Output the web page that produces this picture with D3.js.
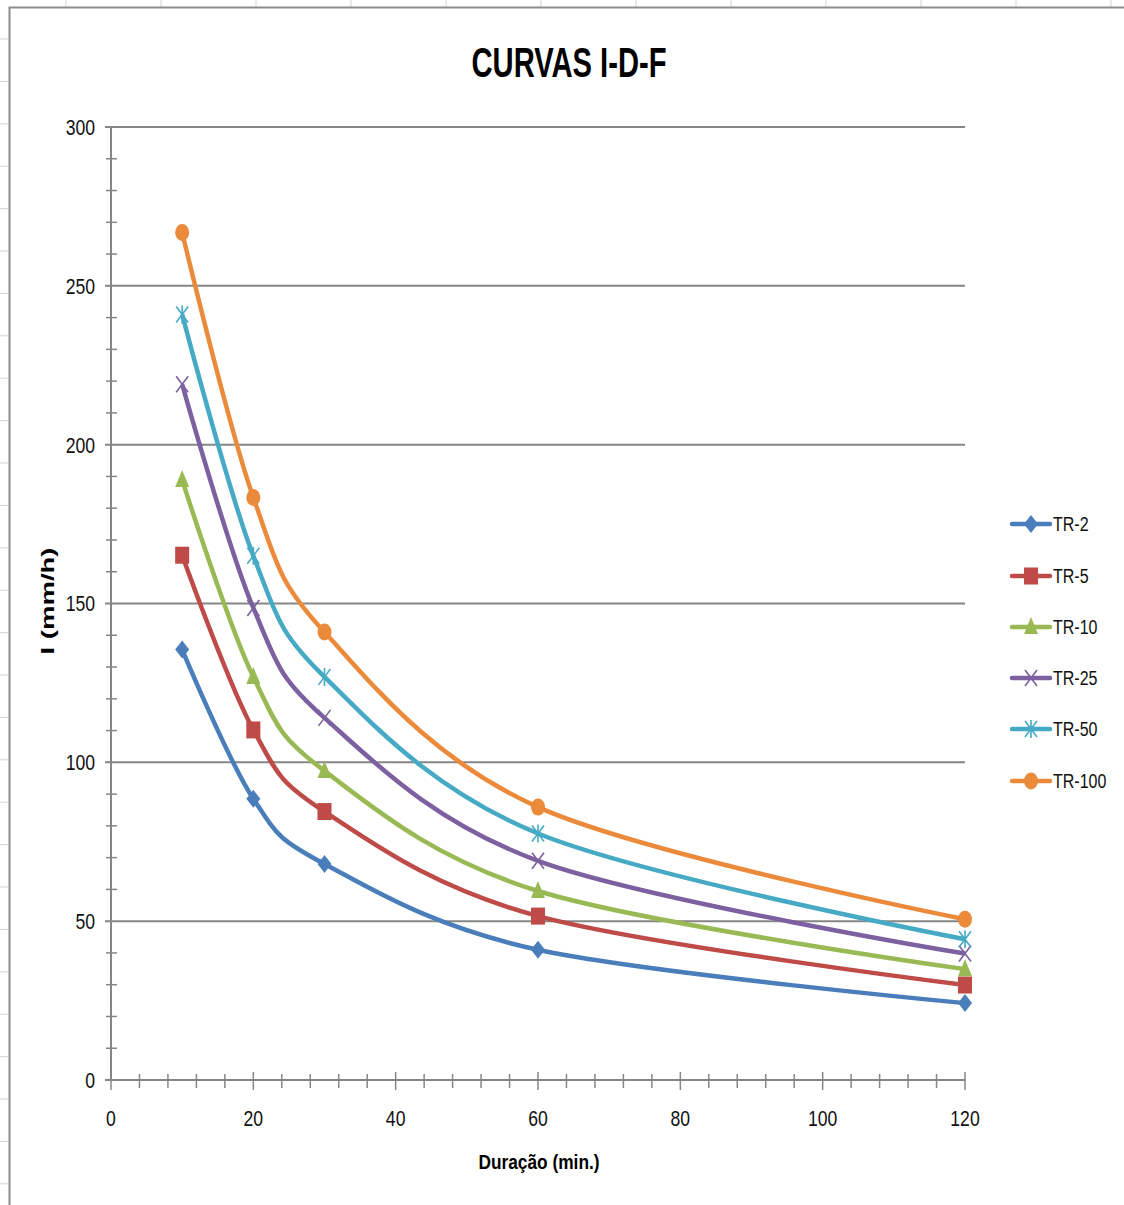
<!DOCTYPE html>
<html>
<head>
<meta charset="utf-8">
<script src="https://cdn.jsdelivr.net/npm/d3@7"></script>
<style>
  body { margin: 0; background: #fff; }
  svg { display: block; font-family: "Liberation Sans", Arial, sans-serif; }
</style>
</head>
<body>
<div id="chart"></div>
<script>
// dados ---------------------------------------------------------------
const duracoes = [10, 20, 30, 60, 120];
const seriesNames = ['TR-2', 'TR-5', 'TR-10', 'TR-25', 'TR-50', 'TR-100'];
const tr2 = [135.5, 88.5, 68, 41, 24.2];
const tr5 = [165.2, 110.2, 84.5, 51.6, 29.9];
const tr10 = [188.9, 126.9, 97.3, 59.5, 34.9];
const tr25 = [219, 148.6, 114, 69, 39.8];
const tr50 = [241, 165, 126.9, 77.6, 44.3];
const tr100 = [266.8, 183.4, 141, 85.9, 50.6];
const yTicks = [0, 50, 100, 150, 200, 250, 300];
const xTicks = [0, 20, 40, 60, 80, 100, 120];

const seriesValues = [tr2, tr5, tr10, tr25, tr50, tr100];
const colors = ['#4a7ebb', '#be4b48', '#98b954', '#7d60a0', '#46aac5', '#ec8a3c'];
const markerTypes = ['diamond', 'square', 'triangle', 'x', 'star', 'circle'];

// SVG ------------------------------------------------------------------
const W = 1124, H = 1205;
const svg = d3.select('#chart').append('svg')
  .attr('width', W)
  .attr('height', H);

// fundo da planilha
const sheet = svg.append('g');
d3.range(66, W, 95).forEach(x => {
  sheet.append('line').attr('x1', x).attr('x2', x).attr('y1', 0).attr('y2', 7)
    .attr('stroke', '#d4d4d4').attr('stroke-width', 1);
});
d3.range(39, H, 42.4).forEach(y => {
  sheet.append('line').attr('x1', 0).attr('x2', 8).attr('y1', y).attr('y2', y)
    .attr('stroke', '#d4d4d4').attr('stroke-width', 1);
});
// borda do gráfico
svg.append('path')
  .attr('d', `M9.5,${H + 5} L9.5,7.5 L${W + 5},7.5`)
  .attr('fill', 'none')
  .attr('stroke', '#8c8c8c')
  .attr('stroke-width', 2);

// escalas --------------------------------------------------------------
const x = d3.scaleLinear().domain([0, 120]).range([111, 965]);
const y = d3.scaleLinear().domain([0, 300]).range([1080, 127]);
const axisColor = '#868686';

// linhas de grade
svg.append('g').selectAll('line')
  .data(yTicks.filter(d => d > 0))
  .join('line')
  .attr('x1', x(0) - 6).attr('x2', x(120))
  .attr('y1', d => y(d)).attr('y2', d => y(d))
  .attr('stroke', axisColor).attr('stroke-width', 2);

// eixo Y
const yAxis = svg.append('g');
yAxis.append('line')
  .attr('x1', x(0)).attr('x2', x(0)).attr('y1', y(0)).attr('y2', y(300))
  .attr('stroke', axisColor).attr('stroke-width', 2);
yAxis.selectAll('.minor')
  .data(d3.range(0, 301, 10).filter(d => d % 50 !== 0))
  .join('line')
  .attr('x1', x(0) - 5).attr('x2', x(0) + 6)
  .attr('y1', d => y(d)).attr('y2', d => y(d))
  .attr('stroke', axisColor).attr('stroke-width', 1.5);
yAxis.selectAll('text')
  .data(yTicks)
  .join('text')
  .attr('class', 'cond')
  .attr('x', x(0) - 16)
  .attr('y', d => y(d))
  .attr('dy', '0.36em')
  .attr('text-anchor', 'end')
  .attr('font-size', 22)
  .attr('fill', '#111')
  .text(d => d);

// eixo X
const xAxis = svg.append('g');
xAxis.append('line')
  .attr('x1', x(0) - 6).attr('x2', x(120)).attr('y1', y(0)).attr('y2', y(0))
  .attr('stroke', axisColor).attr('stroke-width', 2);
xAxis.selectAll('.minor')
  .data(d3.range(0, 121, 4))
  .join('line')
  .attr('x1', d => x(d)).attr('x2', d => x(d))
  .attr('y1', d => d % 20 === 0 ? y(0) - 8 : y(0) - 6)
  .attr('y2', d => d % 20 === 0 ? y(0) + 10 : y(0) + 8)
  .attr('stroke', axisColor).attr('stroke-width', 1.5);
xAxis.selectAll('text')
  .data(xTicks)
  .join('text')
  .attr('class', 'cond')
  .attr('x', d => x(d))
  .attr('y', 1118)
  .attr('dy', '0.36em')
  .attr('text-anchor', 'middle')
  .attr('font-size', 22)
  .attr('fill', '#111')
  .text(d => d);

// títulos
svg.append('text')
  .attr('x', 569).attr('y', 77)
  .attr('text-anchor', 'middle')
  .attr('font-size', 42)
  .attr('font-weight', 'bold')
  .attr('textLength', 195)
  .attr('lengthAdjust', 'spacingAndGlyphs')
  .text('CURVAS I-D-F');
svg.append('text')
  .attr('x', 539).attr('y', 1169)
  .attr('text-anchor', 'middle')
  .attr('font-size', 21)
  .attr('font-weight', 'bold')
  .attr('textLength', 121)
  .attr('lengthAdjust', 'spacingAndGlyphs')
  .text('Duração (min.)');
svg.append('text')
  .attr('transform', 'translate(54,601) rotate(-90)')
  .attr('text-anchor', 'middle')
  .attr('font-size', 19)
  .attr('font-weight', 'bold')
  .attr('textLength', 107)
  .attr('lengthAdjust', 'spacingAndGlyphs')
  .text('I (mm/h)');

// marcadores -----------------------------------------------------------
function drawMarker (g, type, color) {
  if (type === 'diamond') {
    g.append('path').attr('d', 'M0,-9 L7,0 L0,9 L-7,0Z').attr('fill', color);
  } else if (type === 'square') {
    g.append('rect').attr('x', -7).attr('y', -8.5).attr('width', 14).attr('height', 17).attr('fill', color);
  } else if (type === 'triangle') {
    g.append('path').attr('d', 'M0,-10 L7,7 L-7,7Z').attr('fill', color);
  } else if (type === 'x' || type === 'star') {
    g.append('path').attr('d', 'M-6,-8 L6,8 M6,-8 L-6,8' + (type === 'star' ? ' M0,-9 L0,9' : ''))
      .attr('stroke', color).attr('stroke-width', 1.6).attr('fill', 'none');
  } else {
    g.append('ellipse').attr('rx', 7).attr('ry', 8.5).attr('fill', color);
  }
}

// séries ---------------------------------------------------------------
const line = d3.line()
  .x(d => x(d[0]))
  .y(d => y(d[1]))
  .curve(d3.curveCardinal.tension(0));

seriesValues.forEach((vals, i) => {
  const pts = duracoes.map((d, j) => [d, vals[j]]);
  const g = svg.append('g');
  g.append('path')
    .attr('d', line(pts))
    .attr('fill', 'none')
    .attr('stroke', colors[i])
    .attr('stroke-width', 4.5)
    .attr('stroke-linejoin', 'round');
  pts.forEach(p => {
    const m = g.append('g').attr('transform', `translate(${x(p[0])},${y(p[1])})`);
    drawMarker(m, markerTypes[i], colors[i]);
  });
});

// legenda --------------------------------------------------------------
const legendY = [524, 576, 627, 678, 729, 781];
seriesNames.forEach((name, i) => {
  const g = svg.append('g').attr('transform', `translate(1012,${legendY[i]})`);
  g.append('line').attr('x1', 0).attr('x2', 38)
    .attr('stroke', colors[i]).attr('stroke-width', 4.5).attr('stroke-linecap', 'round');
  const m = g.append('g').attr('transform', 'translate(19,0)');
  drawMarker(m, markerTypes[i], colors[i]);
  g.append('text')
    .attr('class', 'cond')
    .attr('x', 41)
    .attr('dy', '0.36em')
    .attr('font-size', 20)
    .attr('fill', '#111')
    .text(name);
});

// texto condensado (estilo Calibri)
svg.selectAll('.cond').each(function () {
  const w = this.getComputedTextLength();
  this.setAttribute('textLength', w * 0.8);
  this.setAttribute('lengthAdjust', 'spacingAndGlyphs');
});
</script>
</body>
</html>
